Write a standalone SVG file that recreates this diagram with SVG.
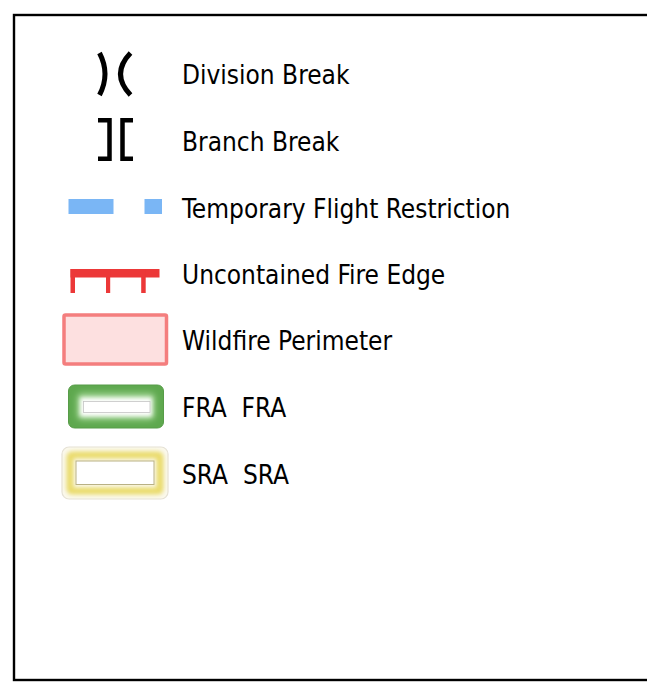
<svg xmlns="http://www.w3.org/2000/svg" width="647" height="693" viewBox="0 0 647 693">
  <defs>
    <style>
      .lbl { font-family: "DejaVu Sans", "Liberation Sans", sans-serif; font-stretch: condensed; font-size: 26px; fill: #000; white-space: pre; }
      .brk { fill: none; stroke: #000; stroke-width: 4.5; stroke-linejoin: miter; stroke-linecap: butt; }
      .par { fill: none; stroke: #000; stroke-width: 5; stroke-linecap: butt; }
    </style>
    <filter id="blur3" x="-30%" y="-60%" width="160%" height="220%">
      <feGaussianBlur stdDeviation="3"/>
    </filter>
    <filter id="blur2" x="-30%" y="-60%" width="160%" height="220%">
      <feGaussianBlur stdDeviation="2"/>
    </filter>
  </defs>
  <rect id="frame" x="14" y="15" width="700" height="665" fill="#fff" stroke="#000" stroke-width="2.4"/>

  <g id="division-break">
    <path class="par" d="M99.5,53 Q110.5,74 99.5,95"/>
    <path class="par" d="M130.5,53 Q110.5,74 130.5,95"/>
    <text class="lbl" x="182" y="84">Division Break</text>
  </g>

  <g id="branch-break">
    <path class="brk" d="M98,120.3 H109.5 V158.7 H98"/>
    <path class="brk" d="M133,120.3 H122.5 V158.7 H133"/>
    <text class="lbl" x="182" y="151">Branch Break</text>
  </g>

  <g id="tfr">
    <rect x="68.5" y="199" width="45" height="15" fill="#7ab6f5"/>
    <rect x="144.5" y="199" width="17.5" height="15" fill="#7ab6f5"/>
    <text class="lbl" x="182" y="217.5">Temporary Flight Restriction</text>
  </g>

  <g id="uncontained">
    <rect x="70.5" y="269" width="89" height="8.5" fill="#ec3838"/>
    <rect x="70.5" y="269" width="4.5" height="24" fill="#ec3838"/>
    <rect x="106" y="269" width="4.2" height="24" fill="#ec3838"/>
    <rect x="141.2" y="269" width="4.5" height="24" fill="#ec3838"/>
    <text class="lbl" x="182" y="283.5">Uncontained Fire Edge</text>
  </g>

  <g id="wildfire-perimeter">
    <rect x="64" y="315" width="102.5" height="49" rx="1.5" fill="#fde0e0" stroke="#f47e7e" stroke-width="3.5"/>
    <text class="lbl" x="182" y="350">Wildfire Perimeter</text>
  </g>

  <g id="fra">
    <rect x="68.5" y="385" width="95" height="43" rx="6" fill="#5ea84e" stroke="#579c48" stroke-width="1"/>
    <rect x="77" y="393" width="78" height="27" rx="5" fill="#9fd391" filter="url(#blur3)"/>
    <rect x="80" y="397.5" width="72" height="19" fill="#fff" filter="url(#blur2)"/>
    <rect x="83.5" y="401.5" width="66.5" height="11" fill="#fff" stroke="#c4c4c4" stroke-width="0.8"/>
    <text class="lbl" x="182" y="417">FRA  FRA</text>
  </g>

  <g id="sra">
    <rect x="62" y="447" width="106" height="52" rx="7" fill="#fbf9ee" stroke="#e6e2d6" stroke-width="1.2"/>
    <rect x="70" y="455" width="90" height="36" rx="2" fill="none" stroke="#eadb6c" stroke-width="7" filter="url(#blur2)"/>
    <rect x="76" y="461" width="78" height="23.5" fill="#fff" stroke="#b9b184" stroke-width="1"/>
    <text class="lbl" x="182" y="483.5">SRA  SRA</text>
  </g>
</svg>
